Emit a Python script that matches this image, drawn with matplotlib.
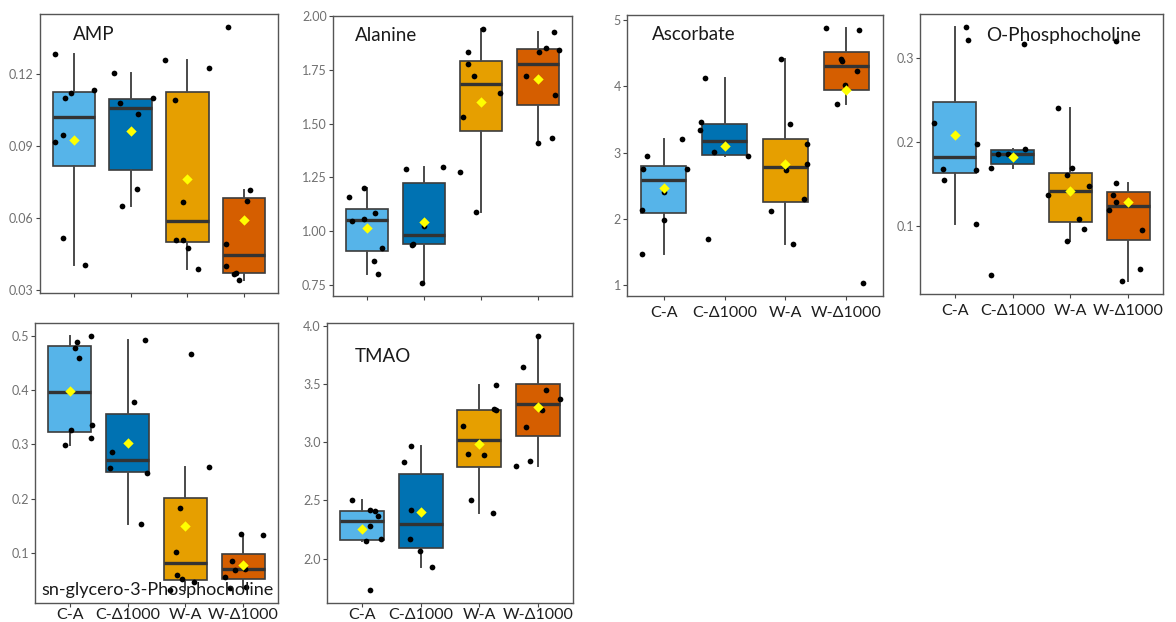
import matplotlib
matplotlib.use("Agg")
import matplotlib.pyplot as plt
import numpy as np

plt.rcParams["font.family"] = ["Lato", "DejaVu Sans"]

groups = ["C-A", "C-Δ1000", "W-A", "W-Δ1000"]
colors = ["#56B4E9", "#0072B2", "#E69F00", "#D55E00"]

# ---- AMP ----
amp_values = [
    [0.1283, 0.1100, 0.1120, 0.1136, 0.0947, 0.0918, 0.0515, 0.0401],
    [0.1204, 0.1082, 0.1100, 0.1036, 0.0721, 0.0650],
    [0.1258, 0.1225, 0.1093, 0.0667, 0.0506, 0.0506, 0.0475, 0.0387],
    [0.1399, 0.0718, 0.0669, 0.0489, 0.0399, 0.0367, 0.0371, 0.0339],
]
amp_jitter = [
    [-0.34, -0.16, -0.06, 0.35, -0.19, -0.33, -0.19, 0.19],
    [-0.29, -0.18, 0.39, 0.13, 0.11, -0.16],
    [-0.39, 0.38, -0.22, -0.08, -0.20, -0.07, 0.02, 0.19],
    [-0.29, 0.11, 0.06, -0.32, -0.32, -0.18, -0.14, -0.08],
]
amp_means = [0.0926, 0.0964, 0.0763, 0.0593]
amp_ticks = [0.03, 0.06, 0.09, 0.12]
amp_ticklabels = ["0.03", "0.06", "0.09", "0.12"]

# ---- Alanine ----
ala_values = [
    [1.156, 1.2023, 1.046, 1.0567, 1.0815, 0.922, 0.8584, 0.801],
    [1.2875, 1.2983, 1.024, 0.936, 0.940, 0.756],
    [1.9427, 1.834, 1.7785, 1.7227, 1.6453, 1.5307, 1.275, 1.0877],
    [1.9272, 1.853, 1.8327, 1.8436, 1.7227, 1.636, 1.4114, 1.433],
]
ala_jitter = [
    [-0.32, -0.05, -0.26, -0.05, 0.14, 0.26, 0.12, 0.19],
    [-0.32, 0.34, 0.0, -0.22, -0.20, -0.03],
    [0.03, -0.22, -0.22, -0.13, 0.34, -0.31, -0.36, -0.09],
    [0.28, 0.15, 0.02, 0.38, -0.21, 0.30, 0.01, 0.25],
]
ala_means = [1.015, 1.043, 1.602, 1.706]
ala_ticks = [0.75, 1.00, 1.25, 1.50, 1.75, 2.00]
ala_ticklabels = ["0.75", "1.00", "1.25", "1.50", "1.75", "2.00"]

# ---- Ascorbate ----
asc_values = [
    [3.211, 2.955, 2.754, 2.754, 2.409, 2.133, 1.977, 1.471],
    [4.118, 3.466, 3.346, 3.015, 2.955, 1.692],
    [4.409, 3.426, 3.135, 2.820, 2.744, 2.293, 2.123, 1.622],
    [4.880, 4.845, 4.414, 4.378, 4.223, 4.013, 3.737, 1.030],
]
asc_jitter = [
    [0.31, -0.28, -0.33, 0.39, 0.0, -0.36, 0.01, -0.36],
    [-0.32, -0.39, -0.40, -0.17, 0.39, -0.27],
    [-0.08, 0.07, 0.36, 0.35, 0.01, 0.31, -0.23, 0.12],
    [-0.33, 0.20, -0.09, -0.08, 0.18, -0.02, -0.15, 0.28],
]
asc_means = [2.459, 3.095, 2.825, 3.937]
asc_ticks = [1, 2, 3, 4, 5]
asc_ticklabels = ["1", "2", "3", "4", "5"]

# ---- O-Phosphocholine ----
opc_values = [
    [0.3375, 0.3213, 0.2233, 0.1972, 0.1676, 0.1664, 0.1553, 0.1020],
    [0.3174, 0.1917, 0.1854, 0.1854, 0.1696, 0.0419],
    [0.2403, 0.1692, 0.1609, 0.1474, 0.1364, 0.1083, 0.0960, 0.0818],
    [0.3206, 0.1510, 0.1364, 0.1281, 0.1190, 0.0953, 0.0486, 0.0340],
]
opc_jitter = [
    [0.19, 0.23, -0.35, 0.39, -0.21, 0.36, -0.18, 0.36],
    [0.19, 0.22, -0.26, -0.08, -0.37, -0.37],
    [-0.21, 0.02, -0.06, 0.32, -0.39, 0.14, 0.23, -0.06],
    [-0.22, -0.22, -0.26, -0.22, -0.33, 0.23, 0.21, -0.11],
]
opc_means = [0.2087, 0.1822, 0.1419, 0.1289]
opc_ticks = [0.1, 0.2, 0.3]
opc_ticklabels = ["0.1", "0.2", "0.3"]

# ---- sn-glycero-3-Phosphocholine ----
gpc_values = [
    [0.5000, 0.4889, 0.4773, 0.4582, 0.3261, 0.3353, 0.3120, 0.2991],
    [0.4926, 0.3790, 0.2868, 0.2560, 0.2475, 0.1540],
    [0.4662, 0.2591, 0.1823, 0.1018, 0.0607, 0.0527, 0.0472, 0.0318],
    [0.1356, 0.1338, 0.0865, 0.0687, 0.0717, 0.0564, 0.0386, 0.0361],
]
gpc_jitter = [
    [0.375, 0.13, 0.09, 0.16, 0.02, 0.38, 0.36, -0.09],
    [0.30, 0.11, -0.27, -0.31, 0.33, 0.23],
    [0.10, 0.40, -0.10, -0.16, -0.15, -0.06, 0.14, -0.26],
    [-0.04, 0.34, -0.19, -0.14, 0.03, -0.31, 0.04, -0.23],
]
gpc_means = [0.3986, 0.3022, 0.1498, 0.0779]
gpc_ticks = [0.1, 0.2, 0.3, 0.4, 0.5]
gpc_ticklabels = ["0.1", "0.2", "0.3", "0.4", "0.5"]

# ---- TMAO ----
tmao_values = [
    [2.506, 2.420, 2.406, 2.366, 2.277, 2.151, 2.169, 1.729],
    [2.971, 2.834, 2.420, 2.169, 2.066, 1.929],
    [3.494, 3.283, 3.277, 3.143, 2.900, 2.886, 2.500, 2.391],
    [3.914, 3.649, 3.449, 3.369, 3.280, 3.129, 2.837, 2.797],
]
tmao_jitter = [
    [-0.17, 0.14, 0.22, 0.27, 0.13, 0.06, 0.32, 0.13],
    [-0.17, -0.29, -0.16, -0.19, -0.01, 0.20],
    [0.28, 0.25, 0.29, -0.27, -0.20, 0.08, -0.15, 0.24],
    [0.0, -0.26, 0.14, 0.37, 0.07, -0.20, -0.13, -0.38],
]
tmao_means = [2.251, 2.397, 2.986, 3.300]
tmao_ticks = [2.0, 2.5, 3.0, 3.5, 4.0]
tmao_ticklabels = ["2.0", "2.5", "3.0", "3.5", "4.0"]

W, H = 1176, 622
fig = plt.figure(figsize=(W / 100, H / 100), dpi=100)
fig.patch.set_facecolor("white")


def panel(box_px, title, values, jitter, means, ticks, ticklabels,
          title_pos, show_xlabels, xpad=3.0, title_size=13.5):
    left, top, right, bottom = box_px
    ax = fig.add_axes([left / W, 1 - bottom / H, (right - left) / W, (bottom - top) / H])
    pos = np.arange(1, len(groups) + 1)
    bp = ax.boxplot(
        values, positions=pos, widths=0.75, patch_artist=True,
        showfliers=False, showcaps=False, whis=1.5,
        medianprops=dict(color="#333333", linewidth=2.4),
        boxprops=dict(edgecolor="#3c3c3c", linewidth=1.2),
        whiskerprops=dict(color="#4a4a4a", linewidth=1.4),
    )
    for patch, c in zip(bp["boxes"], colors):
        patch.set_facecolor(c)
    for i, (vals, jit) in enumerate(zip(values, jitter)):
        ax.scatter(pos[i] + np.array(jit), vals, s=17, color="black",
                   zorder=3, linewidths=0)
    ax.scatter(pos, means, s=28, marker="D", color="#FFFF00",
               zorder=4, linewidths=0)

    allv = np.concatenate([np.asarray(v) for v in values])
    lo, hi = allv.min(), allv.max()
    span = hi - lo
    ax.set_ylim(lo - 0.05 * span, hi + 0.05 * span)
    ax.set_xlim(0.4, 4.6)
    ax.set_yticks(ticks)
    ax.set_yticklabels(ticklabels)
    ax.set_xticks(pos)
    if show_xlabels:
        ax.set_xticklabels(groups, fontsize=11.5, color="#1e1e1e")
    else:
        ax.set_xticklabels([])
    ax.tick_params(axis="y", length=3, width=0.8, color="#444444",
                   labelsize=9, labelcolor="#707070", pad=1.5)
    ax.tick_params(axis="x", length=3, width=0.8, color="#444444", pad=xpad)
    for sp in ax.spines.values():
        sp.set_color("#555555")
        sp.set_linewidth(1.0)
    ax.text(title_pos[0], title_pos[1], title, transform=ax.transAxes,
            fontsize=title_size, color="#1a1a1a", ha="left", va="center",
            zorder=5)
    return ax


panel((40, 14, 278, 293), "AMP", amp_values, amp_jitter, amp_means,
      amp_ticks, amp_ticklabels, (0.139, 0.925), False)
panel((333, 16, 572, 296), "Alanine", ala_values, ala_jitter, ala_means,
      ala_ticks, ala_ticklabels, (0.092, 0.932), False)
panel((627, 15, 883, 296), "Ascorbate", asc_values, asc_jitter, asc_means,
      asc_ticks, asc_ticklabels, (0.098, 0.929), True, xpad=4.0)
panel((920, 14, 1163, 294), "O-Phosphocholine", opc_values, opc_jitter, opc_means,
      opc_ticks, opc_ticklabels, (0.272, 0.923), True, xpad=4.0, title_size=13.7)
panel((35, 323, 278, 603), "sn-glycero-3-Phosphocholine", gpc_values, gpc_jitter,
      gpc_means, gpc_ticks, gpc_ticklabels, (0.025, 0.046), True, xpad=0.8,
      title_size=13.0)
panel((327, 323, 573, 603), "TMAO", tmao_values, tmao_jitter, tmao_means,
      tmao_ticks, tmao_ticklabels, (0.114, 0.882), True, xpad=0.8)

fig.savefig("out.png", dpi=100, facecolor="white")
